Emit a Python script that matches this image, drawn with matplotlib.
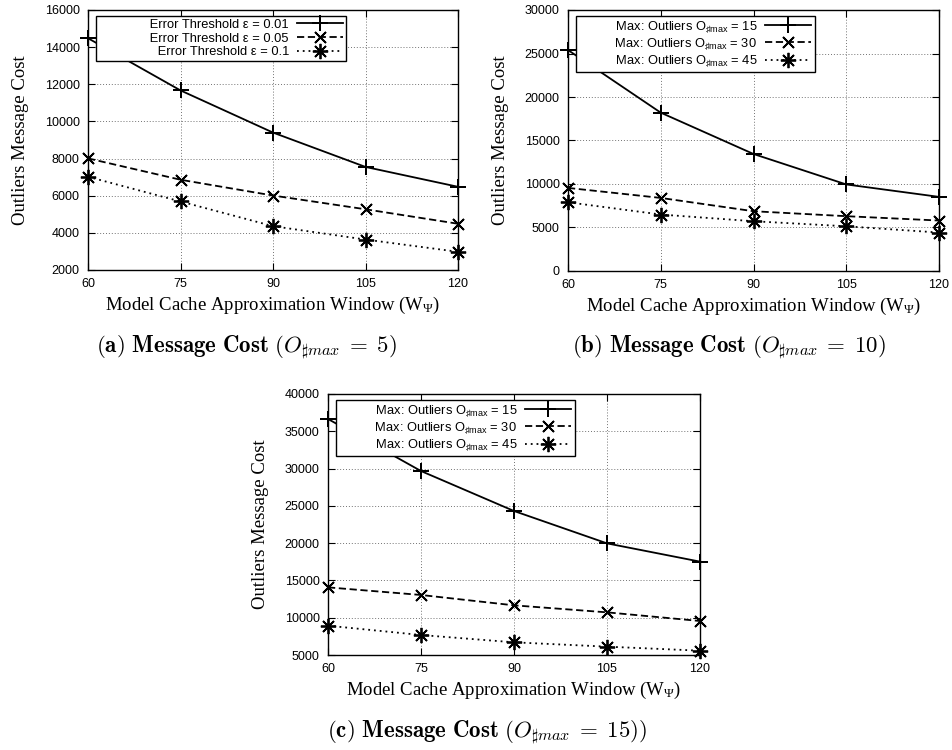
import matplotlib
matplotlib.use("Agg")
import matplotlib.pyplot as plt

plt.rcParams['font.family'] = ['Liberation Sans', 'DejaVu Sans']
plt.rcParams['mathtext.fontset'] = 'custom'
plt.rcParams['mathtext.rm'] = 'Liberation Sans'
plt.rcParams['mathtext.it'] = 'Liberation Sans:italic'
plt.rcParams['mathtext.default'] = 'regular'

# ---------------- data ----------------
windows = [60, 75, 90, 105, 120]
xticks = [60, 75, 90, 105, 120]

# (a) O#max = 5
a_labels = ["Error Threshold \u03b5 = 0.01", "Error Threshold \u03b5 = 0.05", "Error Threshold \u03b5 = 0.1"]
a_eps001 = [14480, 11670, 9400, 7550, 6480]
a_eps005 = [8010, 6860, 6010, 5270, 4490]
a_eps01 = [7020, 5690, 4360, 3640, 2980]
a_yticks = [2000, 4000, 6000, 8000, 10000, 12000, 14000, 16000]

# (b) O#max = 10
b_labels = ["Max: Outliers O$_{\\sharp max}$ = 15", "Max: Outliers O$_{\\sharp max}$ = 30", "Max: Outliers O$_{\\sharp max}$ = 45"]
b_o15 = [25400, 18200, 13450, 9950, 8520]
b_o30 = [9550, 8400, 6870, 6300, 5800]
b_o45 = [7900, 6490, 5720, 5140, 4420]
b_yticks = [0, 5000, 10000, 15000, 20000, 25000, 30000]

# (c) O#max = 15
c_labels = ["Max: Outliers O$_{\\sharp max}$ = 15", "Max: Outliers O$_{\\sharp max}$ = 30", "Max: Outliers O$_{\\sharp max}$ = 45"]
c_o15 = [36650, 29670, 24310, 19970, 17520]
c_o30 = [14070, 13050, 11660, 10720, 9560]
c_o45 = [8930, 7680, 6700, 6120, 5580]
c_yticks = [5000, 10000, 15000, 20000, 25000, 30000, 35000, 40000]

captions = [r"$\mathbf{(a)\ Message\ Cost}\ \mathrm{(}\mathit{O}_{\mathit{\sharp max}}\;\mathrm{=}\;\mathrm{5)}$",
            r"$\mathbf{(b)\ Message\ Cost}\ \mathrm{(}\mathit{O}_{\mathit{\sharp max}}\;\mathrm{=}\;\mathrm{10)}$",
            r"$\mathbf{(c)\ Message\ Cost}\ \mathrm{(}\mathit{O}_{\mathit{\sharp max}}\;\mathrm{=}\;\mathrm{15))}$"]

xlabel = "Model Cache Approximation Window (W$_{\\Psi}$)"
ylabel = "Outliers Message Cost"

styles = [
    dict(linestyle='-', marker=(4, 2, 0)),
    dict(linestyle=(0, (4, 2)), marker=(4, 2, 45)),
    dict(linestyle=(0, (1, 2.2)), marker=(8, 2, 0)),
]

fig = plt.figure(figsize=(9.53, 7.5), dpi=100)

W, H = 953.0, 750.0
def ax_at(l, t, r, b):
    return fig.add_axes([l / W, 1 - b / H, (r - l) / W, (b - t) / H])

panels = [
    (ax_at(88, 10, 458, 270), [a_eps001, a_eps005, a_eps01], a_labels, a_yticks, (2000, 16000), 14),
    (ax_at(568, 10, 939, 271), [b_o15, b_o30, b_o45], b_labels, b_yticks, (0, 30000), 10),
    (ax_at(328, 394, 700, 655), [c_o15, c_o30, c_o45], c_labels, c_yticks, (5000, 40000), 10),
]

for ax, series, labels, yt, ylim, nsp in panels:
    for vals, lab, st in zip(series, labels, styles):
        ax.plot(windows, vals, color='black', lw=1.3, linestyle=st['linestyle'],
                marker=st['marker'], markersize=11, markeredgewidth=1.3,
                label=" " * nsp + lab, clip_on=False, zorder=3)
    ax.set_xlim(60, 120)
    ax.set_ylim(*ylim)
    ax.set_xticks(xticks)
    ax.set_yticks(yt)
    ax.grid(True, color='0.45', linestyle=(0, (1, 2)), lw=0.7)
    ax.tick_params(direction='in', top=True, right=True, length=5, width=0.8,
                   labelsize=9, pad=6)
    for s in ax.spines.values():
        s.set_linewidth(1.0)
    ax.set_xlabel(xlabel, family='Liberation Serif', fontsize=13.5, labelpad=3,
                  math_fontfamily='stix')
    ax.set_ylabel(ylabel, family='Liberation Serif', fontsize=13.5, labelpad=11)
    leg = ax.legend(loc='upper left', bbox_to_anchor=(0.022, 0.978), markerfirst=False,
                    fontsize=9.3, handlelength=3.6, handletextpad=0.6, borderpad=0.25,
                    labelspacing=0.12, fancybox=False, framealpha=1, edgecolor='black',
                    borderaxespad=0)
    leg.get_frame().set_linewidth(1.0)

fig.text(246 / W, 1 - 348 / H, captions[0], ha='center', va='center', fontsize=16.5,
         math_fontfamily='cm')
fig.text(729 / W, 1 - 348 / H, captions[1], ha='center', va='center', fontsize=16.5,
         math_fontfamily='cm')
fig.text(487 / W, 1 - 733 / H, captions[2], ha='center', va='center', fontsize=16.5,
         math_fontfamily='cm')

fig.savefig("out.png", dpi=100)
